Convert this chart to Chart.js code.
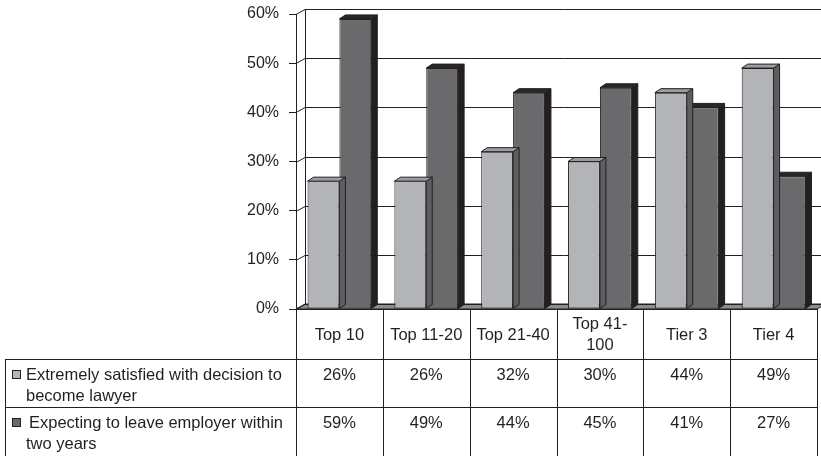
<!DOCTYPE html>
<html>
<head>
<meta charset="utf-8">
<script src="https://cdn.jsdelivr.net/npm/chart.js@4/dist/chart.umd.min.js"></script>
<style>
  html, body { margin: 0; padding: 0; background: #ffffff; }
  #wrap { width: 821px; height: 456px; position: relative; }
  canvas { display: block; }
</style>
</head>
<body>
<div id="wrap"><canvas id="c" width="821" height="456"></canvas></div>
<script>
// Law-firm associate survey by school rank
const categories = ['Top 10', 'Top 11-20', 'Top 21-40', 'Top 41-100', 'Tier 3', 'Tier 4'];
const categoryLines = [['Top 10'], ['Top 11-20'], ['Top 21-40'], ['Top 41-', '100'], ['Tier 3'], ['Tier 4']];
const satisfied = [26, 26, 32, 30, 44, 49];
const leaving = [59, 49, 44, 45, 41, 27];
const seriesNames = [
  ['Extremely satisfied with decision to', 'become lawyer'],
  ['Expecting to leave employer within', 'two years']
];
const yTicks = [0, 10, 20, 30, 40, 50, 60];

const INK = '#231f20';
const FAMILY = "'Liberation Sans', Arial, Helvetica, sans-serif";
const FONT = '16.5px ' + FAMILY;
const faces = [
  { front: '#b3b4b8', top: '#9c9da1', side: '#5e5e61' },
  { front: '#6a6a6d', top: '#2b2728', side: '#231f20' }
];

// depth of the floor / side wall and of each bar
const WALL_DX = 9, WALL_DY = -5;
const BAR_DX = 6, BAR_DY = -4;

const wallPlugin = {
  id: 'wall3d',
  beforeDatasetsDraw(chart) {
    const { ctx, chartArea: a, scales: { y } } = chart;
    ctx.save();
    ctx.strokeStyle = INK;
    ctx.lineWidth = 1;
    // floor
    ctx.beginPath();
    ctx.moveTo(a.left, a.bottom);
    ctx.lineTo(a.right, a.bottom);
    ctx.lineTo(a.right + WALL_DX, a.bottom + WALL_DY);
    ctx.lineTo(a.left + WALL_DX, a.bottom + WALL_DY);
    ctx.closePath();
    ctx.fillStyle = '#8d8d90';
    ctx.fill();
    ctx.stroke();
    // back wall gridlines and their slant across the side wall
    yTicks.forEach(v => {
      const py = Math.round(y.getPixelForValue(v)) + 0.5;
      ctx.beginPath();
      ctx.moveTo(a.left, py);
      ctx.lineTo(a.left + WALL_DX, py + WALL_DY);
      ctx.lineTo(chart.width + 10, py + WALL_DY);
      ctx.stroke();
    });
    // back edge of the side wall
    const bx = Math.round(a.left + WALL_DX) + 0.5;
    ctx.beginPath();
    ctx.moveTo(bx, a.top + WALL_DY);
    ctx.lineTo(bx, a.bottom + WALL_DY);
    ctx.stroke();
    ctx.restore();
  },
  afterDatasetDraw(chart, args) {
    const { ctx } = chart;
    const f = faces[args.index];
    ctx.save();
    ctx.strokeStyle = INK;
    ctx.lineWidth = 1;
    args.meta.data.forEach(bar => {
      const l = bar.x - bar.width / 2, r = bar.x + bar.width / 2;
      const t = bar.y, b = bar.base;
      // right side
      ctx.beginPath();
      ctx.moveTo(r, t);
      ctx.lineTo(r + BAR_DX, t + BAR_DY);
      ctx.lineTo(r + BAR_DX, b + BAR_DY);
      ctx.lineTo(r, b);
      ctx.closePath();
      ctx.fillStyle = f.side;
      ctx.fill();
      ctx.stroke();
      // top
      ctx.beginPath();
      ctx.moveTo(l, t);
      ctx.lineTo(l + BAR_DX, t + BAR_DY);
      ctx.lineTo(r + BAR_DX, t + BAR_DY);
      ctx.lineTo(r, t);
      ctx.closePath();
      ctx.fillStyle = f.top;
      ctx.fill();
      ctx.stroke();
    });
    ctx.restore();
  }
};

// data table under the plot, columns taken from the category scale
const tablePlugin = {
  id: 'dataTable',
  afterDraw(chart) {
    const { ctx, chartArea: a, scales: { x } } = chart;
    const n = categories.length;
    const half = (a.right - a.left) / n / 2;
    const edges = [x.getPixelForValue(0) - half];
    for (let i = 0; i < n; i++) edges.push(x.getPixelForValue(i) + half);
    const rowTop = a.bottom;
    const row1 = 359, row2 = 407, bottom = chart.height + 2;
    const tableLeft = 5;
    ctx.save();
    ctx.strokeStyle = INK;
    ctx.lineWidth = 1;
    const hline = (x0, x1, yy) => {
      ctx.beginPath(); ctx.moveTo(x0, Math.round(yy) + 0.5); ctx.lineTo(x1, Math.round(yy) + 0.5); ctx.stroke();
    };
    const vline = (xx, y0, y1) => {
      ctx.beginPath(); ctx.moveTo(Math.round(xx) + 0.5, y0); ctx.lineTo(Math.round(xx) + 0.5, y1); ctx.stroke();
    };
    hline(edges[0], edges[n], rowTop);
    hline(tableLeft, edges[n], row1);
    hline(tableLeft, edges[n], row2);
    edges.forEach(e => vline(e, rowTop, bottom));
    vline(tableLeft, row1, bottom);

    ctx.fillStyle = INK;
    ctx.font = FONT;
    ctx.textBaseline = 'middle';
    ctx.textAlign = 'center';
    // category header
    categoryLines.forEach((lines, i) => {
      const cx = x.getPixelForValue(i);
      const mid = (rowTop + row1) / 2 + 1;
      const start = mid - (lines.length - 1) * 10.5;
      lines.forEach((s, k) => ctx.fillText(s, cx, start + k * 21));
    });
    // values
    const rows = [satisfied, leaving];
    const rowY = [row1 + 16, row2 + 16];
    rows.forEach((vals, r) => {
      vals.forEach((v, i) => ctx.fillText(v + '%', x.getPixelForValue(i), rowY[r]));
    });
    // series labels with swatches
    ctx.textAlign = 'left';
    seriesNames.forEach((lines, r) => {
      const yy = rowY[r];
      ctx.fillStyle = faces[r].front;
      ctx.fillRect(12.5, yy - 4.5, 8, 8);
      ctx.strokeStyle = INK;
      ctx.strokeRect(12.5, yy - 4.5, 8, 8);
      ctx.fillStyle = INK;
      ctx.fillText(lines[0], r === 0 ? 26 : 29, yy);
      ctx.fillText(lines[1], 26, yy + 21);
    });
    ctx.restore();
  }
};

new Chart(document.getElementById('c'), {
  type: 'bar',
  data: {
    labels: categories,
    datasets: [
      {
        label: seriesNames[0].join(' '),
        data: satisfied,
        backgroundColor: faces[0].front,
        borderColor: INK,
        borderWidth: 1,
        borderSkipped: false
      },
      {
        label: seriesNames[1].join(' '),
        data: leaving,
        backgroundColor: faces[1].front,
        borderColor: INK,
        borderWidth: 1,
        borderSkipped: false
      }
    ]
  },
  options: {
    responsive: false,
    devicePixelRatio: 1,
    animation: false,
    layout: { autoPadding: false, padding: { left: 0, top: 14, right: 4, bottom: 147 } },
    datasets: { bar: { categoryPercentage: 0.734, barPercentage: 1 } },
    plugins: { legend: { display: false }, tooltip: { enabled: false } },
    scales: {
      x: { display: false },
      y: {
        min: 0,
        max: 60,
        afterFit(scale) {
          scale.width = 296;
          scale.paddingTop = 0;
          scale.paddingBottom = 0;
        },
        afterBuildTicks(scale) { scale.ticks = yTicks.map(v => ({ value: v })); },
        ticks: {
          color: INK,
          font: { family: FAMILY, size: 16 },
          padding: 10,
          callback: v => v + '%'
        },
        grid: { drawOnChartArea: false, drawTicks: true, tickLength: 7, color: INK, lineWidth: 1 },
        border: { display: true, color: INK, width: 1 }
      }
    }
  },
  plugins: [wallPlugin, tablePlugin]
});
</script>
</body>
</html>
